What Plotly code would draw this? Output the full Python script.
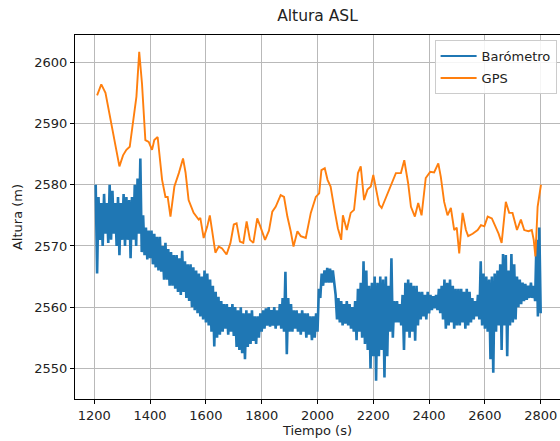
import numpy as np
import plotly.graph_objects as go

# ---------------- data ----------------
x_ticks = [1200, 1400, 1600, 1800, 2000, 2200, 2400, 2600, 2800]
y_ticks = [2550, 2560, 2570, 2580, 2590, 2600]

# Barometer: sampled every 5 s from 1205 s to 2800 s
baro_t = np.arange(1205, 2805, 5)
baro_alt = [
    2580, 2565.5, 2578, 2571, 2577, 2570, 2578.5, 2572, 2577, 2570.5, 2580, 2571, 2579, 2572, 2577, 2570, 2578, 2568.5, 2577, 2571,
    2578.5, 2570, 2578, 2571, 2577.5, 2568, 2578, 2571, 2580, 2570, 2581, 2572, 2584.3, 2569, 2575, 2568.5, 2573, 2567.8, 2572.5, 2568,
    2572.5, 2567, 2572, 2566.5, 2571.5, 2566, 2571.5, 2565.8, 2570, 2564.5, 2570.5, 2564.5, 2569.5, 2563.5, 2569, 2563.5, 2568.5, 2563, 2568.5, 2562.5,
    2568, 2562, 2569.2, 2562.5, 2567.5, 2561.5, 2567, 2561, 2567, 2560, 2566.5, 2559.5, 2566, 2559, 2565.5, 2558.5, 2565, 2558, 2566, 2557.5,
    2565.5, 2557, 2564.5, 2556, 2563.5, 2553.6, 2562.5, 2555, 2561.7, 2555.5, 2561, 2556, 2560.5, 2556.5, 2560.5, 2555.5, 2560, 2556, 2560.5, 2555.3,
    2560, 2553.5, 2559.5, 2553, 2560, 2552.5, 2559, 2551.5, 2559.5, 2553.5, 2559, 2554, 2559.5, 2554.5, 2558.5, 2554, 2558.5, 2555, 2559, 2556,
    2559.5, 2556.5, 2559.8, 2557, 2560, 2556.8, 2559.5, 2557, 2560, 2556.5, 2559.5, 2557, 2560.5, 2556.5, 2561.5, 2556, 2565.8, 2552.3, 2561.5, 2556,
    2560.5, 2556, 2559.5, 2556.5, 2559.5, 2556, 2559, 2555.5, 2559.5, 2556, 2559, 2555, 2559, 2555.5, 2558.5, 2554.6, 2558.5, 2555, 2559, 2556,
    2563, 2561.5, 2565.5, 2563.5, 2566, 2564, 2566.4, 2564, 2566.3, 2564, 2566, 2563.5, 2562, 2558, 2561.5, 2557.5, 2561, 2557, 2560.5, 2557.3,
    2561, 2557, 2560.5, 2556.5, 2560, 2556, 2561, 2554.6, 2563, 2556, 2564, 2555, 2567.5, 2554, 2566, 2553, 2563.5, 2550, 2564, 2552,
    2565, 2548, 2564, 2552, 2565, 2553, 2564.5, 2548.5, 2565, 2552, 2563.5, 2556, 2568, 2555, 2561, 2557.5, 2561, 2557.5, 2560.5, 2557,
    2562, 2553, 2564, 2556, 2564.5, 2555, 2564, 2556, 2563.5, 2554.5, 2563.5, 2557, 2562.5, 2558, 2562.5, 2558.5, 2562, 2558, 2562.5, 2559,
    2562, 2559.5, 2561.8, 2559.8, 2562, 2559.5, 2563, 2559, 2563.5, 2558, 2564.5, 2556.5, 2564, 2557, 2564.5, 2557.5, 2563.5, 2556.5, 2563, 2557,
    2563, 2557, 2563, 2557.5, 2562.5, 2556.5, 2563, 2557, 2562.5, 2557.5, 2561.5, 2558, 2561, 2558.5, 2562, 2558, 2567.5, 2557, 2565.5, 2556.5,
    2565, 2556, 2564.5, 2551.5, 2565, 2549.3, 2565.5, 2556, 2566, 2557, 2567, 2553, 2568.7, 2557, 2568.5, 2552, 2566, 2557, 2568.7, 2557.5,
    2567, 2558, 2565, 2560, 2564.5, 2560.5, 2564, 2561, 2563.8, 2561.2, 2563.5, 2561.5, 2564, 2561.5, 2563.5, 2561, 2571, 2558.5, 2573, 2559,
]

# GPS altitude
gps_t = [
    1210, 1225, 1240, 1257, 1269, 1290, 1303, 1315, 1327, 1341, 1351, 1361, 1371, 1383, 1395, 1407, 1415, 1427,
    1443, 1455, 1463, 1473, 1487, 1503, 1518, 1527, 1538, 1556, 1574, 1580, 1592, 1605, 1614, 1622, 1634, 1646,
    1658, 1674, 1688, 1700, 1710, 1722, 1734, 1746, 1758, 1770, 1784, 1795, 1812, 1826, 1838, 1850, 1868, 1880,
    1892, 1904, 1914, 1928, 1940, 1958, 1976, 1994, 2006, 2014, 2026, 2036, 2047, 2061, 2073, 2085, 2091, 2105,
    2119, 2131, 2145, 2155, 2167, 2179, 2191, 2200, 2208, 2221, 2230, 2245, 2263, 2281, 2299, 2311, 2325, 2335,
    2349, 2361, 2373, 2388, 2404, 2418, 2433, 2442, 2454, 2466, 2478, 2490, 2499, 2508, 2520, 2532, 2540, 2556,
    2574, 2586, 2598, 2610, 2625, 2638, 2649, 2660, 2675, 2687, 2699, 2715, 2729, 2741, 2756, 2768, 2775, 2781,
    2789, 2801,
]
gps_alt = [
    2594.6, 2596.4, 2595, 2591, 2587.8, 2583, 2584.8, 2585.7, 2586.2, 2590.5, 2594.4, 2601.7, 2596.5, 2587.3, 2587, 2585.7, 2587.3, 2587.8,
    2580.8, 2578, 2578, 2574.8, 2579.7, 2581.9, 2584.3, 2582, 2577.5, 2575.4, 2574.3, 2574.6, 2571.3, 2573.2, 2575, 2572.6, 2568.9, 2569.9,
    2569.6, 2568.6, 2570.5, 2573.5, 2573.7, 2570.7, 2570.5, 2574, 2571, 2570.5, 2574.5, 2573.2, 2571, 2572.5, 2575.6, 2576.4, 2578.3, 2578,
    2574.8, 2572.4, 2569.9, 2572.4, 2571.6, 2571.3, 2575.4, 2578, 2578.6, 2582.4, 2582.7, 2580.8, 2579.7, 2575.9, 2572.9, 2571, 2575, 2572.6,
    2575.4, 2575.9, 2581.9, 2583, 2577.5, 2579.2, 2579.7, 2581.6, 2579.7, 2576.7, 2576.2, 2577.8, 2579.7, 2581.9, 2581.9, 2584, 2580.2, 2576.4,
    2574.8, 2577, 2575, 2581.1, 2582.1, 2582, 2583.5, 2581.3, 2577.2, 2575, 2576.2, 2572.6, 2573, 2568.8, 2575.4, 2572.6, 2571.6, 2572,
    2572.6, 2573.4, 2573.2, 2574.8, 2574.5, 2573.2, 2572, 2570.5, 2577.2, 2575.4, 2575.4, 2572.6, 2574.3, 2572.6, 2572.4, 2572.6, 2571, 2568.3,
    2576.4, 2580,
]

# ---------------- figure ----------------
FONT = "DejaVu Sans"
BLUE, ORANGE = "#1f77b4", "#ff7f0e"
fig = go.Figure()
# data traces
fig.add_trace(go.Scatter(x=baro_t, y=baro_alt, mode="lines", name="Barómetro",
                         legendgroup="baro", showlegend=False,
                         line=dict(color=BLUE, width=2.6)))
fig.add_trace(go.Scatter(x=gps_t, y=gps_alt, mode="lines", name="GPS",
                         legendgroup="gps", showlegend=False,
                         line=dict(color=ORANGE, width=1.9)))
# legend entries (thin sample lines, no data drawn)
fig.add_trace(go.Scatter(x=[None], y=[None], mode="lines", name="Barómetro",
                         legendgroup="baro", line=dict(color=BLUE, width=1.9)))
fig.add_trace(go.Scatter(x=[None], y=[None], mode="lines", name="GPS",
                         legendgroup="gps", line=dict(color=ORANGE, width=1.9)))

axis_common = dict(
    showgrid=True, gridcolor="#b9b9b9", gridwidth=0.8,
    zeroline=False, showline=True, linecolor="black", linewidth=1,
    ticks="outside", ticklen=4, tickwidth=1, tickcolor="black",
    tickfont=dict(family=FONT, size=13, color="#222222"),
)

fig.update_layout(
    width=560, height=441,
    margin=dict(l=75, r=0, t=35, b=42),
    paper_bgcolor="white", plot_bgcolor="white",
    font=dict(family=FONT, size=13, color="#222222"),
    title=dict(text="Altura ASL", x=0.5, xref="paper", xanchor="center",
               y=1, yref="container", yanchor="top", pad=dict(t=10),
               font=dict(family=FONT, size=15.5, color="#222222")),
    xaxis=dict(range=[1130.8, 2869.2], tickvals=x_ticks, mirror=True,
               title=dict(text="Tiempo (s)", standoff=4,
                          font=dict(family=FONT, size=13, color="#222222")),
               **axis_common),
    yaxis=dict(range=[2545.0, 2604.46], tickvals=y_ticks,
               title=dict(text="Altura (m)", standoff=8,
                          font=dict(family=FONT, size=13, color="#222222")),
               **axis_common),
    legend=dict(x=0.993, y=0.986, xanchor="right", yanchor="top",
                bgcolor="rgba(255,255,255,0.85)", bordercolor="#cccccc", borderwidth=1,
                font=dict(family=FONT, size=13, color="#222222"),
                itemwidth=36, tracegroupgap=2),
    showlegend=True,
)

fig.write_html("out.html")
